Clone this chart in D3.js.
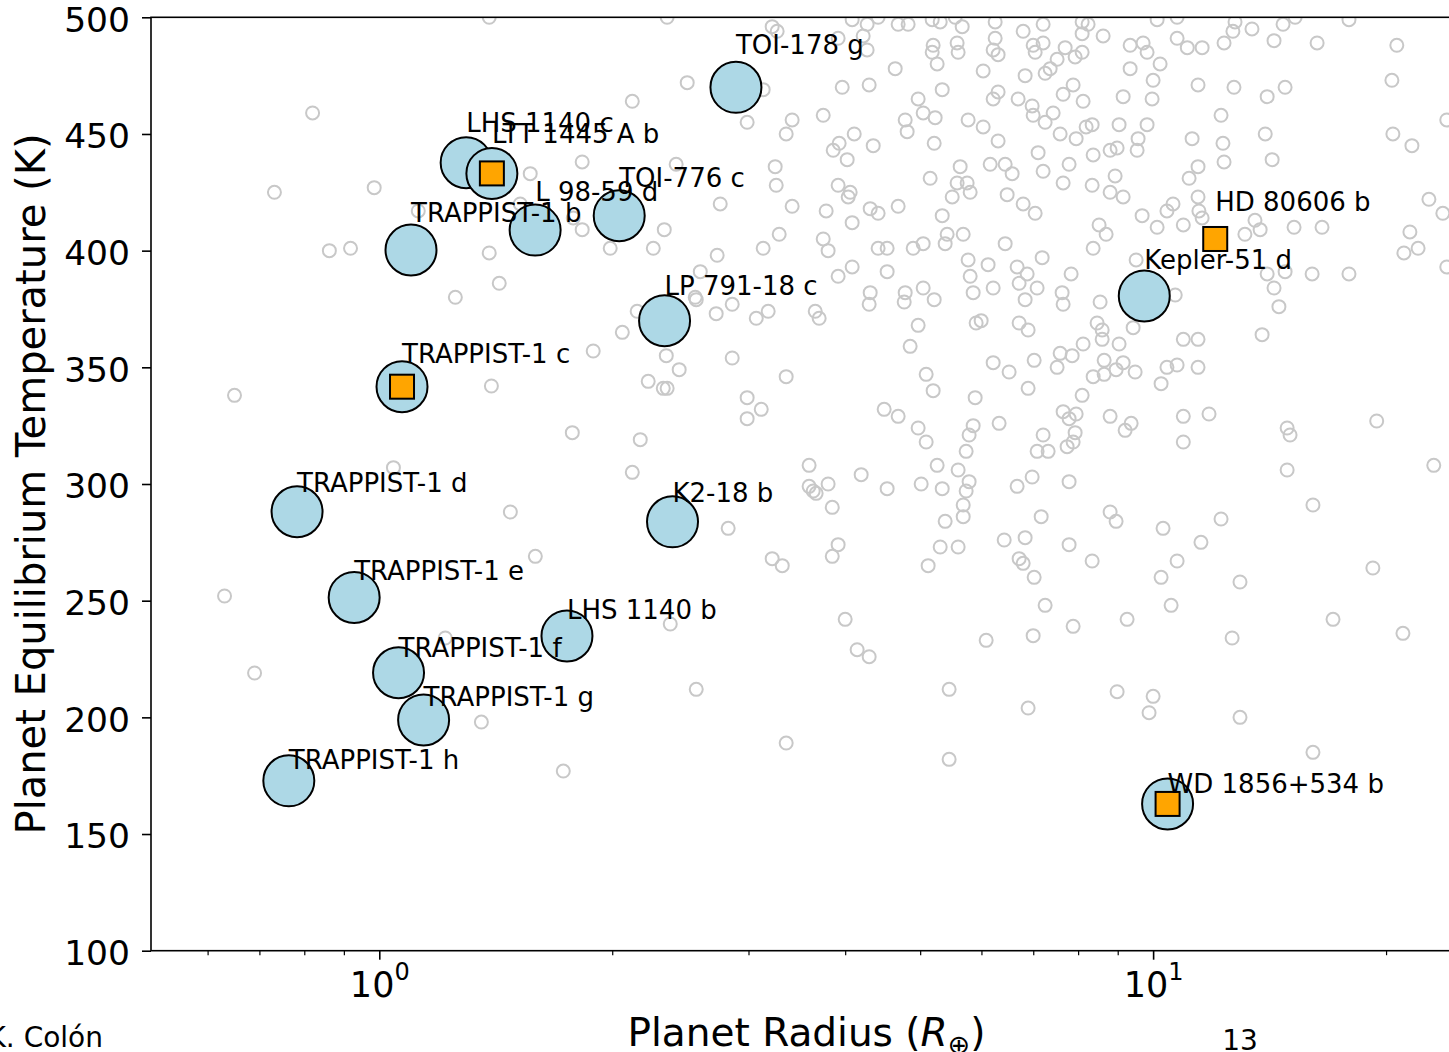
<!DOCTYPE html>
<html>
<head>
<meta charset="utf-8">
<script src="https://cdn.jsdelivr.net/npm/d3@7"></script>
<style>
	body { margin: 0; background: #fff; }
	svg { display: block; font-family: "DejaVu Sans", sans-serif; }
</style>
</head>
<body>
<script>
// highlighted targets, drawn in this order
var targetNames = ["TOI-178 g", "LHS 1140 c", "LTT 1445 A b", "TRAPPIST-1 b", "L 98-59 d", "TOI-776 c",
	"LP 791-18 c", "TRAPPIST-1 c", "TRAPPIST-1 d", "K2-18 b", "TRAPPIST-1 e", "LHS 1140 b",
	"TRAPPIST-1 f", "TRAPPIST-1 g", "TRAPPIST-1 h", "Kepler-51 d", "HD 80606 b", "WD 1856+534 b"];
var targetRadius = [2.89, 1.295, 1.398, 1.099, 1.59, 2.042, 2.337, 1.07, 0.783, 2.393, 0.928, 1.748,
	1.059, 1.141, 0.764, 9.74, 12.03, 10.44];
var targetTemp = [470, 437.7, 433.1, 400.3, 408.8, 415, 370, 341.7, 288.1, 283.8, 251.4, 234.9,
	219.1, 198.9, 172.8, 380.6, 405, 162.9];
// "circle", "square" or "both"
var targetMarker = ["circle", "circle", "both", "circle", "circle", "circle", "circle", "both", "circle",
	"circle", "circle", "circle", "circle", "circle", "circle", "circle", "square", "both"];

// other known planets [radius, temperature]
var fieldPlanets = [
	[0.820,459],[0.732,425],[0.985,427],[0.862,400],[0.918,401],[1.387,399],[1.429,386],[1.567,433],
	[1.829,438],[1.829,409],[1.781,414],[1.123,417],[1.254,380],[1.387,500],[1.521,420],[2.123,464],
	[2.50,472],[0.650,338],[1.396,342],[1.776,322],[1.043,307],[1.477,288],[1.591,269],[0.631,252],
	[1.890,357],[0.690,219],[1.217,234],[1.355,198],[1.729,177],
	[2.355,500],[3.219,496],[3.267,494],[4.084,499],[4.27,497],[4.412,500],[4.683,497],[4.824,497],
	[5.182,499],[5.307,498],[5.549,500],[5.666,496],[6.25,498],[6.793,494],[7.209,497],
	[3.917,491],[4.22,492],[4.27,486],[5.197,488],[5.182,485],[5.259,480],[5.581,489],[5.598,485],
	[6.25,491],[6.213,486],[6.305,484],[6.998,488],[7.04,485],[7.209,489],
	[4.642,478],[6.031,477],[6.833,475],[7.252,476],[3.965,470],[4.296,471],[5.339,469],[3.134,469],
	[6.305,468],[6.213,465],[6.692,465],[6.977,462],[6.998,458],[4.97,465],[5.045,459],[5.228,457],
	[4.782,456],[4.81,451],[5.767,456],[6.031,453],[6.305,447],[7.102,442],[7.252,455],
	[2.988,455],[3.416,456],[3.356,450],[3.747,458],[4.109,450],[3.929,446],[3.86,443],[4.024,439],
	[4.348,445],[5.213,446],
	[3.248,436],[3.258,428],[3.917,428],[4.06,425],[4.036,423],[5.151,431],[5.632,436],[5.581,429],
	[5.75,429],[5.802,425],[5.5,423],[6.158,437],[6.439,437],[6.574,433],[6.477,424],[7.209,434],
	[2.419,437],
	[2.758,420],[3.416,419],[3.78,417],[4.309,418],[4.412,416],[4.683,419],[5.339,415],[6.793,420],
	[7.04,416],
	[2.335,409],[2.26,401],[1.988,401],[2.733,398],[3.134,401],[3.287,407],[3.747,405],[3.802,400],
	[4.084,412],[4.412,401],[4.532,401],[4.897,401],[5.045,403],[5.418,407],[5.386,403],[5.683,407],
	[6.439,403],[7.188,397],
	[2.599,391],[3.917,389],[4.084,393],[4.532,391],[5.767,396],[5.802,389],[6.12,394],[6.672,393],
	[6.874,390],[6.712,386],[4.309,382],[4.782,382],[5.045,384],[5.854,382],[6.213,384],[7.081,384],
	[2.56,380],
	[2.568,379],[2.858,377],[2.725,373],[3.07,371],[3.181,374],[3.659,374],[3.702,371],[4.296,377],
	[4.768,378],[5.213,379],[6.833,379],[2.154,374],[2.061,365],[4.97,368],[5.906,369],[5.995,370],
	[6.712,369],[6.894,366],[4.853,359],[2.349,355],[2.441,349],[2.226,344],[2.328,341],[2.355,341],
	[2.858,354],[3.356,346],[5.09,347],[5.197,340],[6.213,352],[6.515,348],[7.019,353],[6.894,341],
	[5.889,337],[2.988,337],[3.116,332],[2.988,328],[4.492,332],[4.683,329],[4.97,324],[5.09,318],
	[5.854,325],[5.784,321],[5.733,314],[6.324,326],[7.209,321],[7.081,314],[2.174,319],[2.123,305],
	[3.593,308],[3.593,299],[3.637,297],[3.669,296],[3.802,300],[3.849,290],[4.195,304],[4.532,298],
	[5.015,300],[5.259,308],[5.339,298],[5.598,306],[5.784,301],[5.733,297],[5.683,291],[5.683,286],
	[5.386,284],[6.672,299],[6.977,303],[7.167,286],[2.824,281],[3.219,268],[3.317,265],[3.917,274],
	[3.849,269],[5.307,273],[5.598,273],[5.12,265],[6.42,276],[6.833,277],[6.712,268],[6.793,266],
	[7.019,260],[7.252,248],[4.0,242],
	[2.377,240],[4.145,229],[4.296,226],[6.085,233],[6.998,235],[2.568,212],[5.45,212],[6.894,204],
	[3.356,189],[5.45,182],
	[8.096,498],[8.241,497],[8.096,493],[8.618,492],[7.697,487],[7.929,483],[8.096,485],[7.515,482],
	[7.361,478],[9.339,488],[9.707,489],[9.822,485],[10.21,480],[9.339,478],[10.0,473],[9.97,465],
	[9.147,466],[10.74,491],[11.07,487],[11.57,487],[10.12,499],[10.74,500],[12.76,498],[12.68,494],
	[13.42,495],[12.35,489],[14.33,490],[14.72,497],[15.26,500],[16.29,489],[17.91,499],[20.65,488],
	[20.35,473],[11.43,471],[12.72,470],[14.04,466],[14.81,470],[12.24,458],[7.882,471],[7.651,467],
	[8.12,464],[7.427,459],[7.583,450],[7.953,448],[8.193,453],[8.341,454],[9.037,454],[9.822,454],
	[9.563,448],[9.535,443],[8.799,443],[8.984,444],[8.366,441],[11.23,448],[12.31,446],[12.35,438],
	[13.96,450],[14.25,439],[20.41,450],[21.6,445],[23.96,456],[7.651,429],[7.788,437],[8.341,428],
	[8.931,432],[8.799,425],[9.147,423],[11.13,431],[11.43,436],[11.43,423],[11.46,417],[11.57,414],
	[9.678,415],[10.42,417],[10.61,420],[10.12,410],[10.94,411],[8.515,411],[8.695,407],[8.366,401],
	[7.835,390],[9.507,396],[13.14,407],[13.54,413],[13.75,409],[15.21,410],[16.53,410],[16.05,390],
	[17.91,390],[14.04,390],[14.81,391],[14.33,384],[21.47,408],[22.0,401],[21.09,399],[22.72,422],
	[23.68,416],[23.96,393],[7.628,382],[10.68,381],
	[7.651,377],[8.541,378],[14.54,376],[8.465,369],[8.593,366],[8.593,362],[9.423,367],[9.037,360],
	[8.12,360],[7.583,356],[7.859,355],[7.515,350],[8.644,353],[9.147,352],[8.957,349],[8.644,347],
	[8.366,346],[9.479,348],[10.42,350],[10.74,351],[11.43,350],[10.24,343],[8.096,338],[10.94,362],
	[11.43,362],[13.83,364],[7.651,331],[7.953,330],[7.788,328],[8.799,329],[9.367,326],[9.201,323],
	[7.929,322],[7.882,318],[7.742,316],[7.317,314],[10.94,329],[11.81,330],[10.94,318],[14.9,324],
	[15.03,321],[19.45,327],[14.9,306],[23.05,308],[16.09,291],[7.788,301],[8.799,288],[8.957,284],
	[10.3,281],[12.24,285],[7.788,274],[8.341,267],[10.74,267],[11.53,275],[10.24,260],[12.95,258],
	[19.23,264],[10.55,248],[17.08,242],[9.255,242],
	[7.882,239],[12.65,234],[21.03,236],[8.984,211],[10.0,209],[9.88,202],[12.95,200],[16.09,185]
];

// axis ticks
var yTicks = [100, 150, 200, 250, 300, 350, 400, 450, 500];
var xMajorTicks = [1, 10];
var xMinorTicks = [0.6, 0.7, 0.8, 0.9, 2, 3, 4, 5, 6, 7, 8, 9, 20];

function draw() {
	"use strict";
	var width = 1449,
		height = 1052,
		left = 151,
		right = 1462,
		top = 17.3,
		bottom = 950.7,
		labelLift = 1.03;

	var svg = d3.select("body")
		.append("svg")
			.attr("width", width)
			.attr("height", height);

	var x = d3.scaleLog()
		.domain([0.507, 25.07])
		.range([left, right]);

	var y = d3.scaleLinear()
		.domain([100, 500])
		.range([bottom, top]);

	svg.append("clipPath")
		.attr("id", "plot-clip")
		.append("rect")
			.attr("x", left)
			.attr("y", top)
			.attr("width", right - left)
			.attr("height", bottom - top);

	var plot = svg.append("g")
		.attr("clip-path", "url(#plot-clip)");

	// background planets
	plot.selectAll("circle.field")
		.data(fieldPlanets)
		.enter()
		.append("circle")
			.attr("class", "field")
			.attr("cx", function(d) { return x(d[0]); })
			.attr("cy", function(d) { return y(d[1]); })
			.attr("r", 6.5)
			.attr("fill", "none")
			.attr("stroke", "#c8c8c8")
			.attr("stroke-width", 2);

	var targets = targetNames.map(function(name, i) {
		return { name: name, r: targetRadius[i], t: targetTemp[i], marker: targetMarker[i] };
	});

	// blue circles
	plot.selectAll("circle.target")
		.data(targets.filter(function(d) { return d.marker !== "square"; }))
		.enter()
		.append("circle")
			.attr("class", "target")
			.attr("cx", function(d) { return x(d.r); })
			.attr("cy", function(d) { return y(d.t); })
			.attr("r", 25.5)
			.attr("fill", "lightblue")
			.attr("stroke", "black")
			.attr("stroke-width", 2);

	// orange squares
	var side = 24;
	plot.selectAll("rect.target")
		.data(targets.filter(function(d) { return d.marker !== "circle"; }))
		.enter()
		.append("rect")
			.attr("class", "target")
			.attr("x", function(d) { return x(d.r) - side / 2; })
			.attr("y", function(d) { return y(d.t) - side / 2; })
			.attr("width", side)
			.attr("height", side)
			.attr("fill", "orange")
			.attr("stroke", "black")
			.attr("stroke-width", 2);

	// names
	svg.selectAll("text.name")
		.data(targets)
		.enter()
		.append("text")
			.attr("class", "name")
			.attr("x", function(d) { return x(d.r); })
			.attr("y", function(d) { return y(d.t * labelLift); })
			.attr("font-size", 26)
			.attr("fill", "black")
			.text(function(d) { return d.name; });

	// y axis
	var yAxis = svg.append("g")
		.attr("transform", "translate(" + left + ",0)")
		.call(d3.axisLeft(y).tickValues(yTicks).tickSize(9).tickSizeOuter(0).tickPadding(12));
	yAxis.select(".domain").remove();
	yAxis.selectAll(".tick line").attr("stroke-width", 1.6);
	yAxis.selectAll(".tick text")
		.attr("font-size", 34.5)
		.attr("font-family", "DejaVu Sans, sans-serif")
		.attr("dy", "0.4em");

	// x axis, minor then major
	var xMinor = svg.append("g")
		.attr("transform", "translate(0," + bottom + ")")
		.call(d3.axisBottom(x).tickValues(xMinorTicks).tickSize(4.5).tickSizeOuter(0).tickFormat(""));
	xMinor.select(".domain").remove();
	xMinor.selectAll(".tick line").attr("stroke-width", 1.2);

	var xAxis = svg.append("g")
		.attr("transform", "translate(0," + bottom + ")")
		.call(d3.axisBottom(x).tickValues(xMajorTicks).tickSize(9).tickSizeOuter(0).tickFormat(""));
	xAxis.select(".domain").remove();
	xAxis.selectAll(".tick line").attr("stroke-width", 1.6);
	xAxis.selectAll(".tick text")
		.attr("y", 46)
		.attr("dy", 0)
		.attr("font-size", 35)
		.attr("font-family", "DejaVu Sans, sans-serif")
		.each(function(d) {
			var t = d3.select(this);
			t.append("tspan").text("10");
			t.append("tspan")
				.attr("dy", -17)
				.attr("font-size", 24)
				.text(Math.round(Math.log10(d)));
		});

	// frame
	svg.append("rect")
		.attr("x", left)
		.attr("y", top)
		.attr("width", right - left)
		.attr("height", bottom - top)
		.attr("fill", "none")
		.attr("stroke", "black")
		.attr("stroke-width", 1.6);

	// axis titles
	svg.append("text")
		.attr("transform", "translate(45," + ((top + bottom) / 2) + ") rotate(-90)")
		.attr("text-anchor", "middle")
		.attr("font-size", 40)
		.text("Planet Equilibrium Temperature (K)");

	var xTitle = svg.append("text")
		.attr("x", (left + right) / 2)
		.attr("y", 1046)
		.attr("text-anchor", "middle")
		.attr("font-size", 39);
	xTitle.append("tspan").text("Planet Radius (");
	xTitle.append("tspan").attr("font-style", "italic").text("R");
	xTitle.append("tspan").attr("font-size", 27).attr("dy", 8).text("\u2295");
	xTitle.append("tspan").attr("dy", -8).text(")");

	// slide footer
	svg.append("text")
		.attr("x", 103)
		.attr("y", 1047)
		.attr("text-anchor", "end")
		.attr("font-size", 28)
		.text("K. Colón");

	svg.append("text")
		.attr("x", 1240)
		.attr("y", 1050)
		.attr("text-anchor", "middle")
		.attr("font-size", 28)
		.text("13");
}

draw();
</script>
</body>
</html>
